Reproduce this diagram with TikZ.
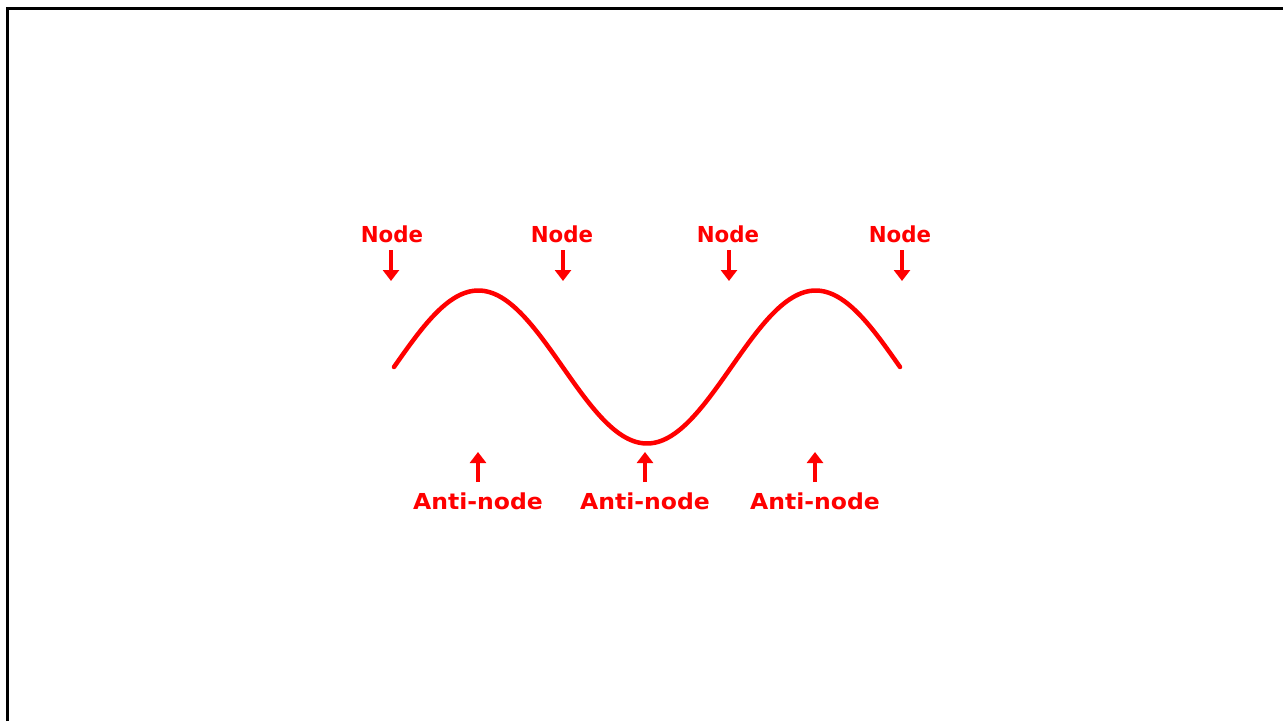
\documentclass[tikz,border=0pt]{standalone}
\usepackage{fontspec}
\usepackage{graphicx}
\setmainfont{DejaVu Sans}
\usetikzlibrary{arrows.meta}
\definecolor{wavered}{RGB}{255,0,0}
\tikzset{
  lbl/.style={text=wavered, font=\bfseries\fontsize{22}{24}\selectfont, inner sep=0pt, anchor=center},
  ptr/.style={draw=wavered, line width=3.4pt, -{Triangle[width=16pt,length=11pt]}},
  wave/.style={draw=wavered, line width=4.5pt, line cap=round, line join=round},
  frame/.style={draw=black, line width=3pt}
}
\begin{document}
\begin{tikzpicture}[x=1pt, y=-1pt]
\useasboundingbox (0,0) rectangle (1283,721);
\fill[white] (0,0) rectangle (1283,721);
% frame
\draw[frame] (7.5,721) -- (7.5,8.5) -- (1283,8.5);
% wave
\draw[wave] plot[domain=0:540, samples=180, smooth] ({394+\x*0.937037}, {367-76.5*sin(\x)});
% node labels
\node[lbl] (n1) at (392,234) {\scalebox{0.97}[1]{Node}};
\node[lbl] (n2) at (562,234) {\scalebox{0.97}[1]{Node}};
\node[lbl] (n3) at (728,234) {\scalebox{0.97}[1]{Node}};
\node[lbl] (n4) at (900,234) {\scalebox{0.97}[1]{Node}};
\coordinate (s1) at (391,250);
\coordinate (s2) at (563,250);
\coordinate (s3) at (729,250);
\coordinate (s4) at (902,250);
\coordinate (t1) at (391,281);
\coordinate (t2) at (563,281);
\coordinate (t3) at (729,281);
\coordinate (t4) at (902,281);
\draw[ptr] (s1) -- (t1);
\draw[ptr] (s2) -- (t2);
\draw[ptr] (s3) -- (t3);
\draw[ptr] (s4) -- (t4);
% anti-node labels
\node[lbl] (a1) at (478,501) {\scalebox{1.07}[1]{Anti-node}};
\node[lbl] (a2) at (645,501) {\scalebox{1.07}[1]{Anti-node}};
\node[lbl] (a3) at (815,501) {\scalebox{1.07}[1]{Anti-node}};
\coordinate (v1) at (478,482);
\coordinate (v2) at (645,482);
\coordinate (v3) at (815,482);
\coordinate (u1) at (478,452);
\coordinate (u2) at (645,452);
\coordinate (u3) at (815,452);
\draw[ptr] (v1) -- (u1);
\draw[ptr] (v2) -- (u2);
\draw[ptr] (v3) -- (u3);
\end{tikzpicture}
\end{document}
